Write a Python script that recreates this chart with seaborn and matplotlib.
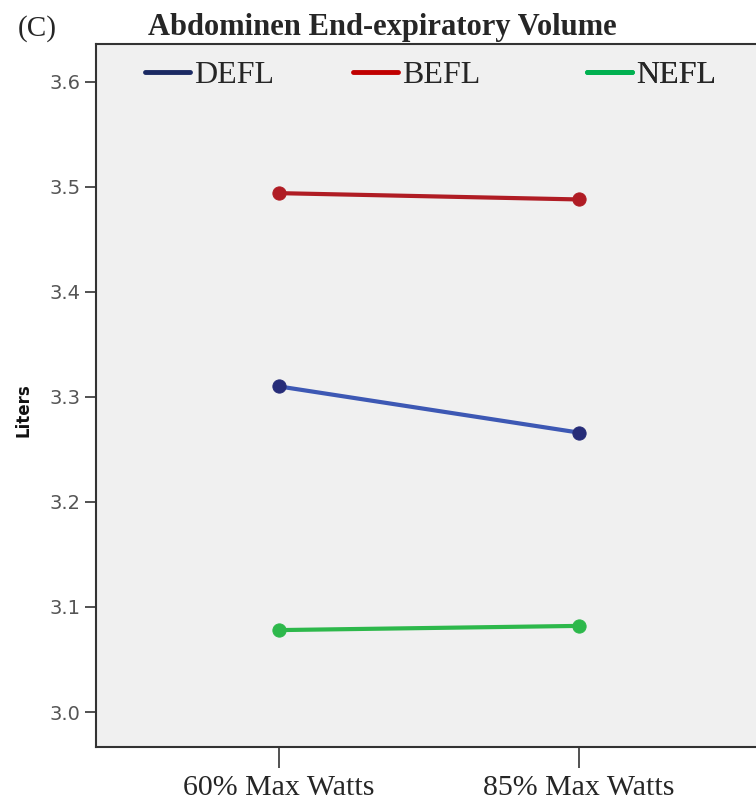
import matplotlib
matplotlib.use("Agg")
import matplotlib.pyplot as plt
from matplotlib.lines import Line2D
import seaborn as sns
import pandas as pd

# ---- data ----
conditions = ["60% Max Watts", "85% Max Watts"]
groups = ["DEFL", "BEFL", "NEFL"]
defl_vals = [3.310, 3.266]
befl_vals = [3.494, 3.488]
nefl_vals = [3.078, 3.082]
y_ticks = [3.0, 3.1, 3.2, 3.3, 3.4, 3.5, 3.6]
title = "Abdominen End-expiratory Volume"
panel = "(C)"
y_label = "Liters"

line_colors = {"DEFL": "#3D58B4", "BEFL": "#B01C24", "NEFL": "#2DB84B"}
marker_colors = {"DEFL": "#262C78", "BEFL": "#B01C24", "NEFL": "#2DB84B"}
legend_colors = {"DEFL": "#1B2A63", "BEFL": "#C00000", "NEFL": "#00B050"}

df = pd.DataFrame({
    "condition": conditions * 3,
    "group": [g for g in groups for _ in conditions],
    "value": defl_vals + befl_vals + nefl_vals,
})

sns.set_style("white")
plt.rcParams["font.family"] = ["DejaVu Sans"]

fig = plt.figure(figsize=(7.56, 8.01), dpi=100)
W, H = 756, 801
ax = fig.add_axes([96 / W, (H - 747) / H, (760 - 96) / W, (747 - 44) / H])
ax.set_facecolor("#F0F0F0")

for g in groups:
    sub = df[df["group"] == g]
    sns.lineplot(data=sub, x="condition", y="value", ax=ax,
                 color=line_colors[g], linewidth=3.0, marker="o",
                 markersize=9.5, markerfacecolor=marker_colors[g],
                 markeredgecolor=marker_colors[g], sort=False, legend=False)

ax.set_xlim(-0.61, 1.603)
ax.set_ylim(2.9667, 3.636)
ax.set_yticks(y_ticks)
ax.set_yticklabels([f"{v:.1f}" for v in y_ticks])
ax.tick_params(axis="y", direction="out", length=8, width=1.2, pad=3,
               labelsize=14, labelcolor="#555555", color="#333333", left=True)
ax.tick_params(axis="x", direction="out", length=15, width=1.2, pad=5,
               labelsize=21.5, color="#333333", bottom=True)
for lab in ax.get_xticklabels():
    lab.set_fontfamily("Liberation Serif")
ax.set_xlabel("")
ax.set_ylabel(y_label, fontsize=12, fontweight="bold", color="#111111")
ax.yaxis.set_label_coords(-(96 - 32) / 664, (747 - 410) / 703)

for side in ["left", "bottom", "top", "right"]:
    ax.spines[side].set_color("#333333")
    ax.spines[side].set_linewidth(1.5)
ax.grid(False)

# legends: three separate entries
leg_x = {"DEFL": 145, "BEFL": 353, "NEFL": 587}
for g in groups:
    h = Line2D([], [], color=legend_colors[g], linewidth=3.5)
    leg = ax.legend([h], [g], loc="upper left",
                    bbox_to_anchor=((leg_x[g] - 96) / 664, 1 - (61 - 44) / 703),
                    frameon=False, borderpad=0, borderaxespad=0,
                    handlelength=1.4, handletextpad=0.15,
                    prop={"family": "Liberation Serif", "size": 23})
    ax.add_artist(leg)

fig.text(382 / W, 1 - 27 / H, title, ha="center", va="center",
         fontsize=22, fontweight="bold", family="Liberation Serif")
fig.text(18 / W, 1 - 29 / H, panel, ha="left", va="center",
         fontsize=21, family="Liberation Serif")

fig.savefig("out.png", dpi=100)
